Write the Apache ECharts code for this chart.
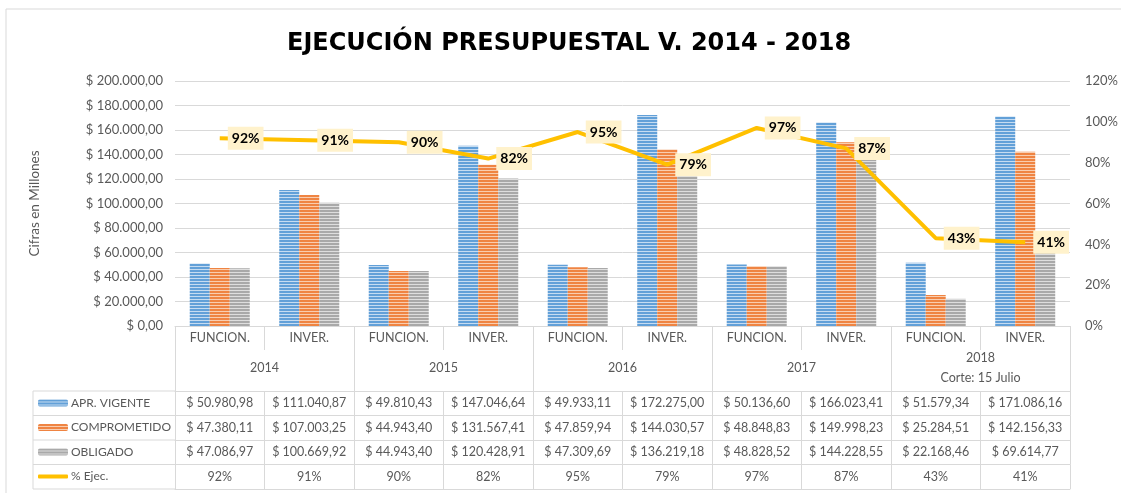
<!DOCTYPE html>
<html>
<head>
<meta charset="utf-8">
<script src="https://cdn.jsdelivr.net/npm/echarts@6/dist/echarts.min.js"></script>
<style>
  html, body { margin: 0; padding: 0; background: #fff; }
  #chart { width: 1121px; height: 493px; }
</style>
</head>
<body>
<div id="chart"></div>
<script>
// Data
const categories = ['FUNCION.', 'INVER.', 'FUNCION.', 'INVER.', 'FUNCION.', 'INVER.', 'FUNCION.', 'INVER.', 'FUNCION.', 'INVER.'];
const years = ['2014', '2015', '2016', '2017', '2018\nCorte: 15 Julio'];
const aprVigente = [50980.98, 111040.87, 49810.43, 147046.64, 49933.11, 172275.00, 50136.60, 166023.41, 51579.34, 171086.16];
const comprometido = [47380.11, 107003.25, 44943.40, 131567.41, 47859.94, 144030.57, 48848.83, 149998.23, 25284.51, 142156.33];
const obligado = [47086.97, 100669.92, 44943.40, 120428.91, 47309.69, 136219.18, 48828.52, 144228.55, 22168.46, 69614.77];
const pctEjec = [0.92, 0.91, 0.90, 0.82, 0.95, 0.79, 0.97, 0.87, 0.43, 0.41];
const seriesNames = ['APR. VIGENTE', 'COMPROMETIDO', 'OBLIGADO', '% Ejec.'];

// Layout
const GRID = { left: 175, right: 48, top: 81, bottom: 167 };
const AXIS_Y = 493 - GRID.bottom;          // pixel y of the x axis line
const ROW_H = 24.5;
const YEAR_ROW_END = 65;                   // offset where the data rows start
const LEG_X = 33;
const BORDER = '#d9d9d9';
const TXT = '#595959';
const FONT = 'Lato';

// Helpers
const fmtThousands = (s) => s.replace(/\B(?=(\d{3})+(?!\d))/g, '.');
function fmtMoney(v) {
  const [i, d] = v.toFixed(2).split('.');
  return '$ ' + fmtThousands(i) + ',' + d;
}
const fmtPct = (v) => Math.round(v * 100) + '%';

function stripes(base, light) {
  const c = document.createElement('canvas');
  c.width = 4; c.height = 3;
  const ctx = c.getContext('2d');
  ctx.fillStyle = base; ctx.fillRect(0, 0, 4, 2);
  ctx.fillStyle = light; ctx.fillRect(0, 2, 4, 1);
  return { image: c, repeat: 'repeat' };
}

function tableRow(data, offset, withLabels) {
  return {
    type: 'category', position: 'bottom', offset, data,
    axisLine: { show: true, lineStyle: { color: BORDER, width: 1 } },
    axisTick: { show: withLabels, length: ROW_H, interval: 0, lineStyle: { color: BORDER } },
    axisLabel: { show: withLabels, interval: 0, margin: ROW_H / 2, verticalAlign: 'middle', color: TXT, fontSize: 12.5, fontFamily: FONT },
    splitLine: { show: false }
  };
}

const rowOffsets = [0, 1, 2, 3].map((i) => YEAR_ROW_END + i * ROW_H);
const lastOffset = YEAR_ROW_END + 4 * ROW_H;

const xAxes = [
  {
    type: 'category', position: 'bottom', data: categories,
    axisLine: { show: true, lineStyle: { color: BORDER } },
    axisTick: { show: true, length: 24, interval: 0, lineStyle: { color: BORDER } },
    axisLabel: { interval: 0, margin: 5, color: TXT, fontSize: 12.5, fontFamily: FONT },
    splitLine: { show: false }
  },
  {
    type: 'category', position: 'bottom', data: years,
    axisLine: { show: false },
    axisTick: { show: true, length: YEAR_ROW_END, interval: 0, lineStyle: { color: BORDER } },
    axisLabel: { interval: 0, margin: 42, verticalAlign: 'middle', lineHeight: 20, color: TXT, fontSize: 12.5, fontFamily: FONT },
    splitLine: { show: false }
  },
  tableRow(aprVigente.map(fmtMoney), rowOffsets[0], true),
  tableRow(comprometido.map(fmtMoney), rowOffsets[1], true),
  tableRow(obligado.map(fmtMoney), rowOffsets[2], true),
  tableRow(pctEjec.map(fmtPct), rowOffsets[3], true),
  tableRow(categories.map(() => ''), lastOffset, false)
];

// legend column frame, continuing the table rows to the left
const legendLines = [];
[...rowOffsets, lastOffset].forEach((off) => {
  legendLines.push({
    type: 'line', silent: true,
    shape: { x1: LEG_X, y1: AXIS_Y + off, x2: GRID.left, y2: AXIS_Y + off },
    style: { stroke: BORDER, lineWidth: 1 }
  });
});
legendLines.push({
  type: 'line', silent: true,
  shape: { x1: LEG_X, y1: AXIS_Y + rowOffsets[0], x2: LEG_X, y2: AXIS_Y + lastOffset },
  style: { stroke: BORDER, lineWidth: 1 }
});

// one legend per table row so each key sits in its own cell
const legends = seriesNames.map((name, i) => {
  const isLine = i === 3;
  return {
    orient: 'vertical', left: 38, top: AXIS_Y + rowOffsets[i] + 5, padding: 0,
    itemWidth: 30, itemHeight: isLine ? 4 : 7, itemGap: 0,
    textStyle: { color: TXT, fontSize: 12, lineHeight: 14, fontFamily: FONT, padding: [0, 0, 0, -2] },
    data: [isLine ? { name, icon: 'roundRect' } : name]
  };
});

const chart = echarts.init(document.getElementById('chart'), null, { renderer: 'canvas' });
chart.setOption({
  animation: false,
  backgroundColor: '#fff',
  textStyle: { fontFamily: FONT },
  title: {
    text: 'EJECUCIÓN PRESUPUESTAL V. 2014 - 2018',
    left: 282, top: 27,
    textStyle: { fontFamily: 'DejaVu Sans', fontWeight: 'bold', fontSize: 24, color: '#000' }
  },
  graphic: [
    {
      type: 'rect', silent: true, z: -10,
      shape: { x: 6, y: 9, width: 1300, height: 600 },
      style: { fill: 'none', stroke: BORDER, lineWidth: 1 }
    },
    ...legendLines
  ],
  legend: legends,
  grid: GRID,
  xAxis: xAxes,
  yAxis: [
    {
      type: 'value', min: 0, max: 200000, interval: 20000,
      name: 'Cifras en Millones', nameLocation: 'middle', nameGap: 133, nameRotate: 90,
      nameTextStyle: { color: TXT, fontSize: 13.5, fontFamily: FONT },
      axisLine: { show: false }, axisTick: { show: false },
      axisLabel: { margin: 12, color: TXT, fontSize: 13, fontFamily: FONT, formatter: (v) => '$ ' + fmtThousands(String(v)) + ',00' },
      splitLine: { lineStyle: { color: BORDER, width: 1 } }
    },
    {
      type: 'value', min: 0, max: 1.2, interval: 0.2, position: 'right',
      axisLine: { show: false }, axisTick: { show: false },
      axisLabel: { margin: 15, color: TXT, fontSize: 13, fontFamily: FONT, formatter: fmtPct },
      splitLine: { show: false }
    }
  ],
  series: [
    {
      name: seriesNames[0], type: 'bar', data: aprVigente, barWidth: 20, barGap: '0%',
      itemStyle: { color: stripes('#62A0D8', '#C6DCF1') }
    },
    {
      name: seriesNames[1], type: 'bar', data: comprometido, barWidth: 20, barGap: '0%',
      itemStyle: { color: stripes('#EF8442', '#F9CDAF') }
    },
    {
      name: seriesNames[2], type: 'bar', data: obligado, barWidth: 20, barGap: '0%',
      itemStyle: { color: stripes('#A9A9A9', '#DEDEDE') }
    },
    {
      name: seriesNames[3], type: 'line', yAxisIndex: 1, data: pctEjec,
      showSymbol: true, symbol: 'circle', symbolSize: 0.1, z: 5,
      lineStyle: { color: '#FFC000', width: 4 },
      itemStyle: { color: '#FFC000' },
      label: {
        show: true, position: 'right', distance: 8,
        formatter: (p) => fmtPct(p.value),
        backgroundColor: '#FFF2CC', padding: [5, 4, 4, 4],
        color: '#000', fontWeight: 'bold', fontSize: 14, fontFamily: FONT
      }
    }
  ]
});
</script>
</body>
</html>
